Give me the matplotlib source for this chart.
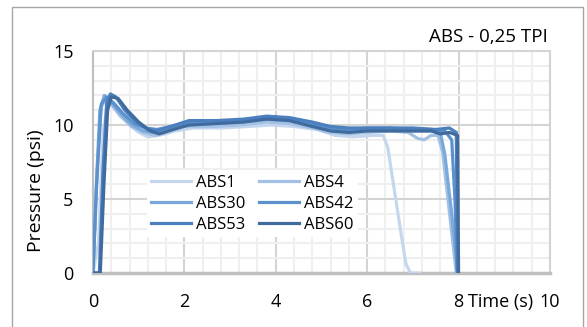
import matplotlib.pyplot as plt
from matplotlib.patches import Rectangle
from matplotlib.ticker import MultipleLocator
from matplotlib.transforms import blended_transform_factory, offset_copy

plt.rcParams['font.family'] = ['Open Sans', 'DejaVu Sans']

title = 'ABS - 0,25 TPI'
labels = ['ABS1', 'ABS4', 'ABS30', 'ABS42', 'ABS53', 'ABS60']
colors = ['#c5d7ee', '#a3c1e4', '#7aa8da', '#5b91cc', '#4b7fbe', '#3f6b9f']

# time (s) and pressure (psi) per specimen
t_abs1 = [0, 0.12, 0.22, 0.32, 0.45, 0.6, 0.8, 1.0, 1.2, 1.45, 1.8, 2.2, 2.8, 3.4, 3.9,
          4.4, 4.9, 5.3, 5.7, 6.1, 6.35, 6.45, 6.6, 6.75, 6.85, 6.95, 7.15]
p_abs1 = [0, 2.0, 9.5, 11.5, 11.3, 10.7, 10.0, 9.5, 9.2, 9.3, 9.6, 9.8, 9.8, 9.9, 10.0,
          9.9, 9.7, 9.3, 9.2, 9.3, 9.3, 8.5, 5.5, 2.5, 0.6, 0, 0]

t_abs4 = [0, 0.1, 0.18, 0.28, 0.4, 0.6, 0.85, 1.1, 1.35, 1.6, 2.0, 2.6, 3.2, 3.8, 4.3,
          4.8, 5.2, 5.6, 6.0, 6.5, 6.9, 7.1, 7.25, 7.4, 7.55, 7.65, 7.95]
p_abs4 = [0, 7.5, 11.2, 11.8, 11.4, 10.6, 9.9, 9.5, 9.3, 9.5, 9.9, 9.9, 10.0, 10.2, 10.1,
          9.8, 9.5, 9.4, 9.5, 9.6, 9.5, 9.1, 9.0, 9.3, 9.3, 8.2, 0]

t_abs30 = [0, 0.06, 0.15, 0.25, 0.38, 0.6, 0.85, 1.1, 1.35, 1.6, 2.0, 2.6, 3.2, 3.8, 4.3,
           4.8, 5.2, 5.6, 6.0, 6.5, 7.0, 7.4, 7.6, 7.7, 7.85, 7.98]
p_abs30 = [0, 5.0, 11.0, 12.0, 11.6, 10.8, 10.0, 9.6, 9.5, 9.7, 10.1, 10.1, 10.2, 10.4, 10.3,
           10.0, 9.6, 9.6, 9.7, 9.7, 9.6, 9.6, 9.5, 8.0, 4.0, 0]

t_abs42 = [0, 0.08, 0.18, 0.3, 0.45, 0.65, 0.9, 1.15, 1.4, 1.7, 2.1, 2.7, 3.3, 3.8, 4.3,
           4.8, 5.2, 5.6, 6.0, 6.5, 7.0, 7.4, 7.7, 7.85, 7.92, 7.97]
p_abs42 = [0, 6.0, 11.4, 11.9, 11.5, 10.8, 10.1, 9.8, 9.7, 9.9, 10.2, 10.2, 10.3, 10.5, 10.4,
           10.1, 9.8, 9.7, 9.8, 9.8, 9.7, 9.7, 9.6, 9.0, 5.0, 0]

t_abs53 = [0, 0.14, 0.22, 0.3, 0.38, 0.5, 0.7, 0.95, 1.2, 1.4, 1.7, 2.1, 2.7, 3.3, 3.8,
           4.3, 4.8, 5.2, 5.6, 6.0, 6.5, 7.0, 7.5, 7.8, 7.95, 7.98]
p_abs53 = [0, 0, 7.0, 11.5, 12.1, 11.9, 11.0, 10.2, 9.7, 9.6, 9.9, 10.3, 10.3, 10.4, 10.6,
           10.5, 10.2, 9.9, 9.8, 9.8, 9.8, 9.8, 9.7, 9.8, 9.5, 0]

t_abs60 = [0, 0.16, 0.24, 0.32, 0.4, 0.55, 0.75, 1.0, 1.25, 1.45, 1.75, 2.1, 2.7, 3.3, 3.8,
           4.3, 4.8, 5.2, 5.6, 6.0, 6.5, 7.0, 7.4, 7.6, 7.8, 7.98, 8.0]
p_abs60 = [0, 0, 6.0, 11.0, 11.9, 11.8, 11.0, 10.2, 9.6, 9.4, 9.7, 10.0, 10.1, 10.2, 10.4,
           10.3, 9.9, 9.6, 9.5, 9.6, 9.6, 9.6, 9.6, 9.4, 9.5, 9.3, 0]

times = [t_abs1, t_abs4, t_abs30, t_abs42, t_abs53, t_abs60]
pressures = [p_abs1, p_abs4, p_abs30, p_abs42, p_abs53, p_abs60]

fig = plt.figure(figsize=(5.87, 3.27), dpi=100)
ax = fig.add_axes([0.1584, 0.165, 0.7785, 0.679])

# outer chart border
fig.patches.append(Rectangle((12 / 587, -0.05), 571 / 587, 1.05 - 7 / 327,
                             transform=fig.transFigure, fill=False,
                             edgecolor='#a6a6a6', lw=1.0))

lines = []
for t, p, c, lab in zip(times, pressures, colors, labels):
    ln, = ax.plot(t, p, color=c, lw=2.3, label=lab, solid_joinstyle='round', zorder=3)
    lines.append(ln)

ax.set_xlim(0, 10)
ax.set_ylim(0, 15)
ax.xaxis.set_major_locator(MultipleLocator(2))
ax.xaxis.set_minor_locator(MultipleLocator(0.4))
ax.yaxis.set_major_locator(MultipleLocator(5))
ax.yaxis.set_minor_locator(MultipleLocator(1))

ax.grid(which='minor', color='#efefef', lw=1.5, zorder=0)
ax.grid(which='major', color='#d4d4d4', lw=1.5, zorder=1)
ax.set_axisbelow(True)
tick_pad = 14.5
ax.tick_params(which='both', length=0, labelsize=13, colors='#000000')
ax.tick_params(axis='x', pad=tick_pad)
ax.tick_params(axis='y', pad=14)

for side in ['top', 'right']:
    ax.spines[side].set_color('#d4d4d4')
    ax.spines[side].set_linewidth(1.5)
ax.spines['left'].set_color('#bfbfbf')
ax.spines['left'].set_linewidth(1.5)
ax.spines['bottom'].set_color('#bfbfbf')
ax.spines['bottom'].set_linewidth(2.5)

ax.set_ylabel('Pressure (psi)', fontsize=14)
ax.yaxis.set_label_coords(-0.105, 0.37)

# axis title sits in the tick label row, between 8 and 10
trans = offset_copy(blended_transform_factory(ax.transData, ax.transAxes),
                    fig=fig, x=0, y=-tick_pad, units='points')
ax.text(8.2, 0, 'Time (s)', transform=trans, fontsize=13, ha='left', va='top')

fig.text(548 / 587, 1 - 37 / 327, title, fontsize=13.5, ha='right', va='center')

# row-wise legend order: ABS1 ABS4 / ABS30 ABS42 / ABS53 ABS60
order = [0, 2, 4, 1, 3, 5]
leg = ax.legend([lines[i] for i in order], [labels[i] for i in order],
                ncol=2, loc='upper left', bbox_to_anchor=(0.1, 0.5),
                frameon=True, fancybox=False, framealpha=1, facecolor='white',
                edgecolor='none', fontsize=12, handlelength=2.4, handletextpad=0.3,
                columnspacing=0.8, labelspacing=0.3, borderpad=0.25)
leg.set_zorder(5)

fig.savefig('out.png', dpi=100)
